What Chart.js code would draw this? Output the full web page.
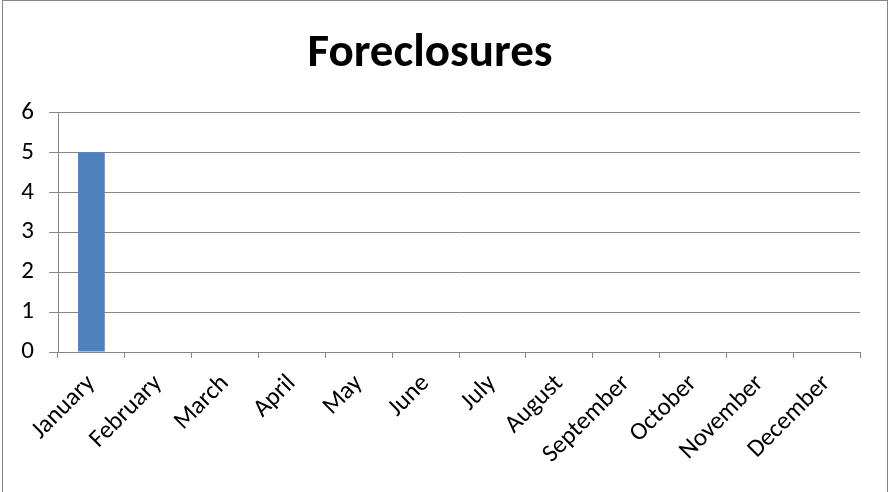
<!DOCTYPE html>
<html>
<head>
<meta charset="utf-8">
<script src="https://cdn.jsdelivr.net/npm/chart.js@4.4.1/dist/chart.umd.min.js"></script>
<style>
  html, body { margin: 0; padding: 0; background: #ffffff; }
  #wrap { width: 890px; height: 492px; }
</style>
</head>
<body>
<div id="wrap"><canvas id="chart" width="890" height="492"></canvas></div>
<script>
// datos del gráfico
var months = ['January', 'February', 'March', 'April', 'May', 'June', 'July',
              'August', 'September', 'October', 'November', 'December'];
var foreclosures = [5, 0, 0, 0, 0, 0, 0, 0, 0, 0, 0, 0];
var yTicks = [0, 1, 2, 3, 4, 5, 6];

var gridColor = '#868686';
var fontFamily = 'Calibri, Carlito, Lato, "Open Sans", sans-serif';

// marco exterior gris alrededor del gráfico
var framePlugin = {
    id: 'frame',
    afterDraw: function (chart) {
        var ctx = chart.ctx;
        ctx.save();
        ctx.strokeStyle = gridColor;
        ctx.lineWidth = 1;
        ctx.strokeRect(2.5, 0.5, 885, 500);
        ctx.restore();
    }
};

var ctx = document.getElementById('chart').getContext('2d');
new Chart(ctx, {
    type: 'bar',
    data: {
        labels: months,
        datasets: [{
            label: 'Foreclosures',
            data: foreclosures,
            backgroundColor: '#4F81BD',
            borderWidth: 0,
            categoryPercentage: 1,
            barPercentage: 0.4
        }]
    },
    options: {
        responsive: false,
        animation: false,
        layout: { padding: { left: 0, right: 30, top: 0, bottom: 0 } },
        plugins: {
            legend: { display: false },
            tooltip: { enabled: false },
            title: {
                display: true,
                text: 'Foreclosures',
                color: '#000000',
                font: { family: fontFamily, size: 47, weight: 'bold', lineHeight: 1.2 },
                padding: { top: 26, bottom: 30 }
            }
        },
        scales: {
            x: {
                offset: true,
                grid: {
                    offset: true,
                    drawOnChartArea: false,
                    drawTicks: true,
                    tickLength: 6,
                    color: gridColor
                },
                border: { display: true, color: gridColor },
                ticks: {
                    color: '#000000',
                    font: { family: fontFamily, size: 25 },
                    minRotation: 45,
                    maxRotation: 45,
                    autoSkip: false,
                    padding: 11
                },
                afterFit: function (scale) { scale.height = 140; }
            },
            y: {
                min: 0,
                max: 6,
                afterBuildTicks: function (scale) {
                    scale.ticks = yTicks.map(function (v) { return { value: v }; });
                },
                grid: {
                    color: gridColor,
                    tickLength: 9,
                    drawTicks: true
                },
                border: { display: true, color: gridColor },
                ticks: {
                    color: '#000000',
                    font: { family: fontFamily, size: 25 },
                    padding: 15
                },
                afterFit: function (scale) { scale.width = 58; }
            }
        }
    },
    plugins: [framePlugin]
});
</script>
</body>
</html>
